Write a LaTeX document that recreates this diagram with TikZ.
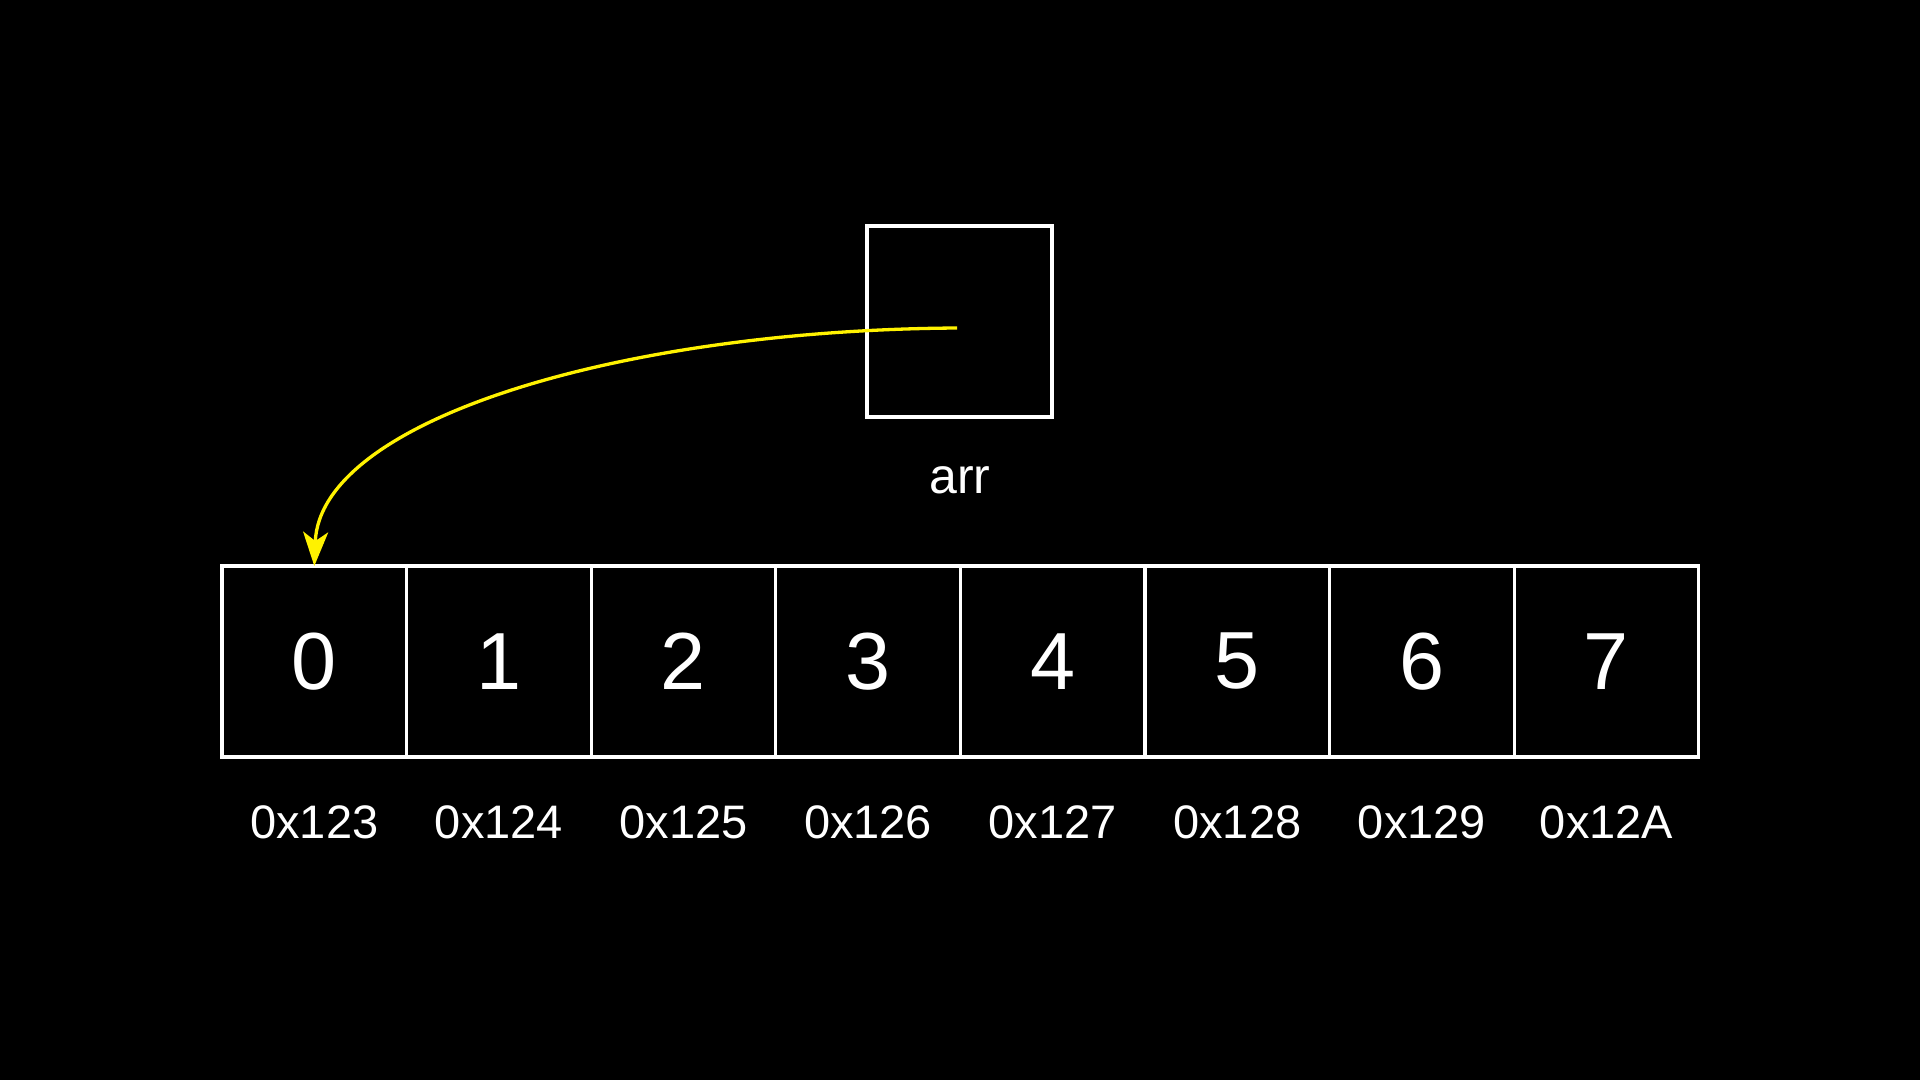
\documentclass[tikz,border=0pt]{standalone}
\usepackage{fontspec}
\setmainfont{Liberation Sans}
\usetikzlibrary{arrows.meta}
\begin{document}
\begin{tikzpicture}[x=1pt,y=-1pt,
  cell/.style={draw=white, line width=3.3pt, minimum width=184.6pt, minimum height=191pt,
    inner sep=0pt, outer sep=0pt, text=white, font=\fontsize{81}{81}\selectfont},
  addr/.style={text=white, font=\fontsize{47}{47}\selectfont, inner sep=0pt},
  ptr/.style={draw=yellow, line width=3.3pt, -{Stealth[length=34pt,width=25pt,inset=9pt]}}]
\fill[black] (0,0) rectangle (1920,1080);
\useasboundingbox (0,0) rectangle (1920,1080);
\node[cell, minimum width=185pt] (p) at (959.5,321.5) {};
\node[addr, anchor=base, font=\fontsize{50}{50}\selectfont] (plabel) at (960,493) {arr};
\foreach \i/\a in {0/123,1/124,2/125,3/126,4/127,5/128,6/129,7/12A} {
  \node[cell] (c\i) at ({314.3+184.6*\i}, 661.5) {\i};
  \node[addr, anchor=base] (a\i) at ({314.3+184.6*\i}, 838) {0x\a};
}
\coordinate (start) at (957,328);
\draw[ptr] (start) .. controls (620,330) and (320,420) .. (c0.north);
\end{tikzpicture}
\end{document}
